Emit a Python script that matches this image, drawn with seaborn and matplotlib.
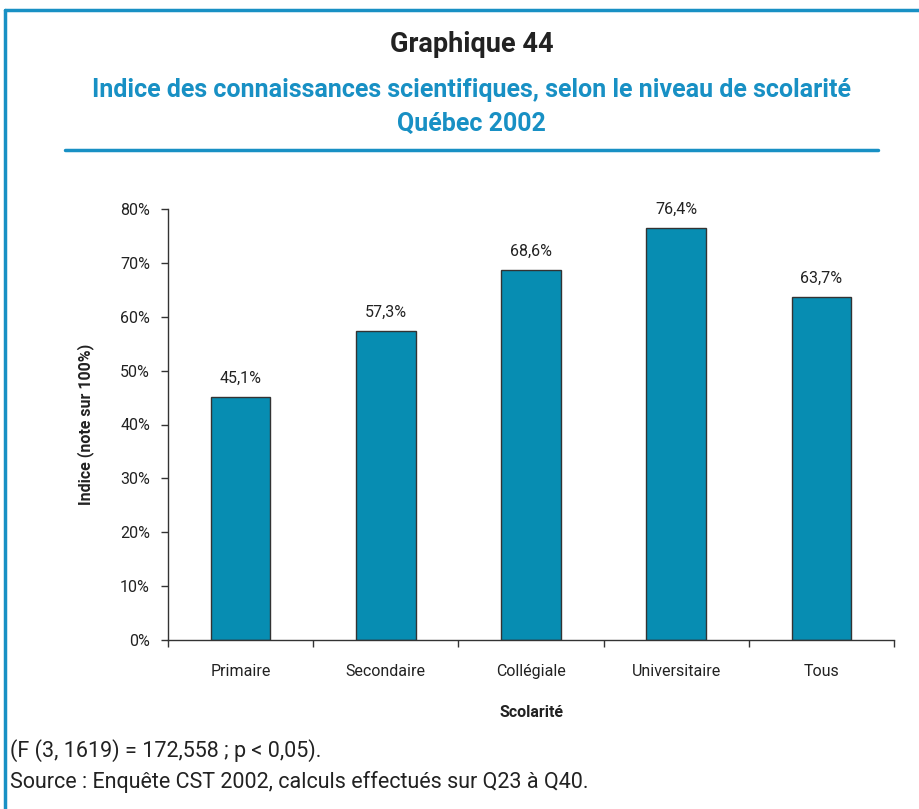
import matplotlib
matplotlib.use("Agg")
import matplotlib.pyplot as plt
from matplotlib.lines import Line2D
from matplotlib.ticker import FuncFormatter, MultipleLocator
import seaborn as sns
import pandas as pd

categories = ["Primaire", "Secondaire", "Collégiale", "Universitaire", "Tous"]
values = [45.1, 57.3, 68.6, 76.4, 63.7]
value_labels = ["45,1%", "57,3%", "68,6%", "76,4%", "63,7%"]

sns.set_theme(style="white")
plt.rcParams["font.family"] = ["Roboto", "DejaVu Sans"]

BLUE = "#078db2"
TITLE_BLUE = "#1890c4"
TEXT = "#222222"

df = pd.DataFrame({"Scolarité": categories, "Indice": values})

fig = plt.figure(figsize=(9.19, 8.09), dpi=100)
W, H = 919, 809
ax = fig.add_axes([168 / W, 1 - 640 / H, (894 - 168) / W, (640 - 209) / H])

sns.barplot(data=df, x="Scolarité", y="Indice", color=BLUE, width=0.41,
            edgecolor="#333333", linewidth=1.0, saturation=1, ax=ax)

ax.set_ylim(0, 80)
ax.set_xlim(-0.5, len(categories) - 0.5)
ax.yaxis.set_major_locator(MultipleLocator(10))
ax.yaxis.set_major_formatter(FuncFormatter(lambda v, _: f"{v:.0f}%"))

for spine in ("top", "right"):
    ax.spines[spine].set_visible(False)
for spine in ("left", "bottom"):
    ax.spines[spine].set_color("#333333")
    ax.spines[spine].set_linewidth(1.0)

ax.tick_params(axis="y", which="major", left=True, length=5, width=1,
               color="#333333", labelsize=11.5, labelcolor=TEXT, pad=8)
ax.tick_params(axis="x", which="major", bottom=False, labelsize=11.5,
               labelcolor=TEXT, pad=11)
# boundary ticks between categories on the x axis
ax.set_xticks([i - 0.5 for i in range(len(categories) + 1)], minor=True)
ax.tick_params(axis="x", which="minor", bottom=True, length=5, width=1,
               color="#333333", direction="out")

ax.set_xlabel("Scolarité", fontsize=11.5, fontweight="bold", color=TEXT, labelpad=19)
ax.set_ylabel("Indice (note sur 100%)", fontsize=11.5, fontweight="bold",
              color=TEXT, labelpad=19)

for i, (v, lab) in enumerate(zip(values, value_labels)):
    ax.annotate(lab, xy=(i, v), xytext=(0, 8), textcoords="offset points",
                ha="center", va="bottom", fontsize=11.5, color=TEXT)

# titles
fig.text(472 / W, 1 - 45 / H, "Graphique 44", ha="center", va="center",
         fontsize=19.5, fontweight="bold", color=TEXT)
fig.text(471 / W, 1 - 90 / H,
         "Indice des connaissances scientifiques, selon le niveau de scolarité",
         ha="center", va="center", fontsize=18, fontweight="bold", color=TITLE_BLUE)
fig.text(471 / W, 1 - 124 / H, "Québec 2002", ha="center", va="center",
         fontsize=18, fontweight="bold", color=TITLE_BLUE)

# separator under title
fig.add_artist(Line2D([65 / W, 878 / W], [1 - 150 / H, 1 - 150 / H],
                      color=TITLE_BLUE, linewidth=2.5, transform=fig.transFigure))

# frame on the left and top
fig.add_artist(Line2D([5 / W, 5 / W], [0, 1 - 10 / H], color=TITLE_BLUE,
                      linewidth=2.5, transform=fig.transFigure))
fig.add_artist(Line2D([5 / W, 1], [1 - 10 / H, 1 - 10 / H], color=TITLE_BLUE,
                      linewidth=2.5, transform=fig.transFigure))

# notes
fig.text(10 / W, 1 - 751 / H, "(F (3, 1619) = 172,558 ; p < 0,05).",
         ha="left", va="center", fontsize=15.5, color=TEXT)
fig.text(10 / W, 1 - 782 / H, "Source : Enquête CST 2002, calculs effectués sur Q23 à Q40.",
         ha="left", va="center", fontsize=15.5, color=TEXT)

fig.savefig("out.png", dpi=100)
